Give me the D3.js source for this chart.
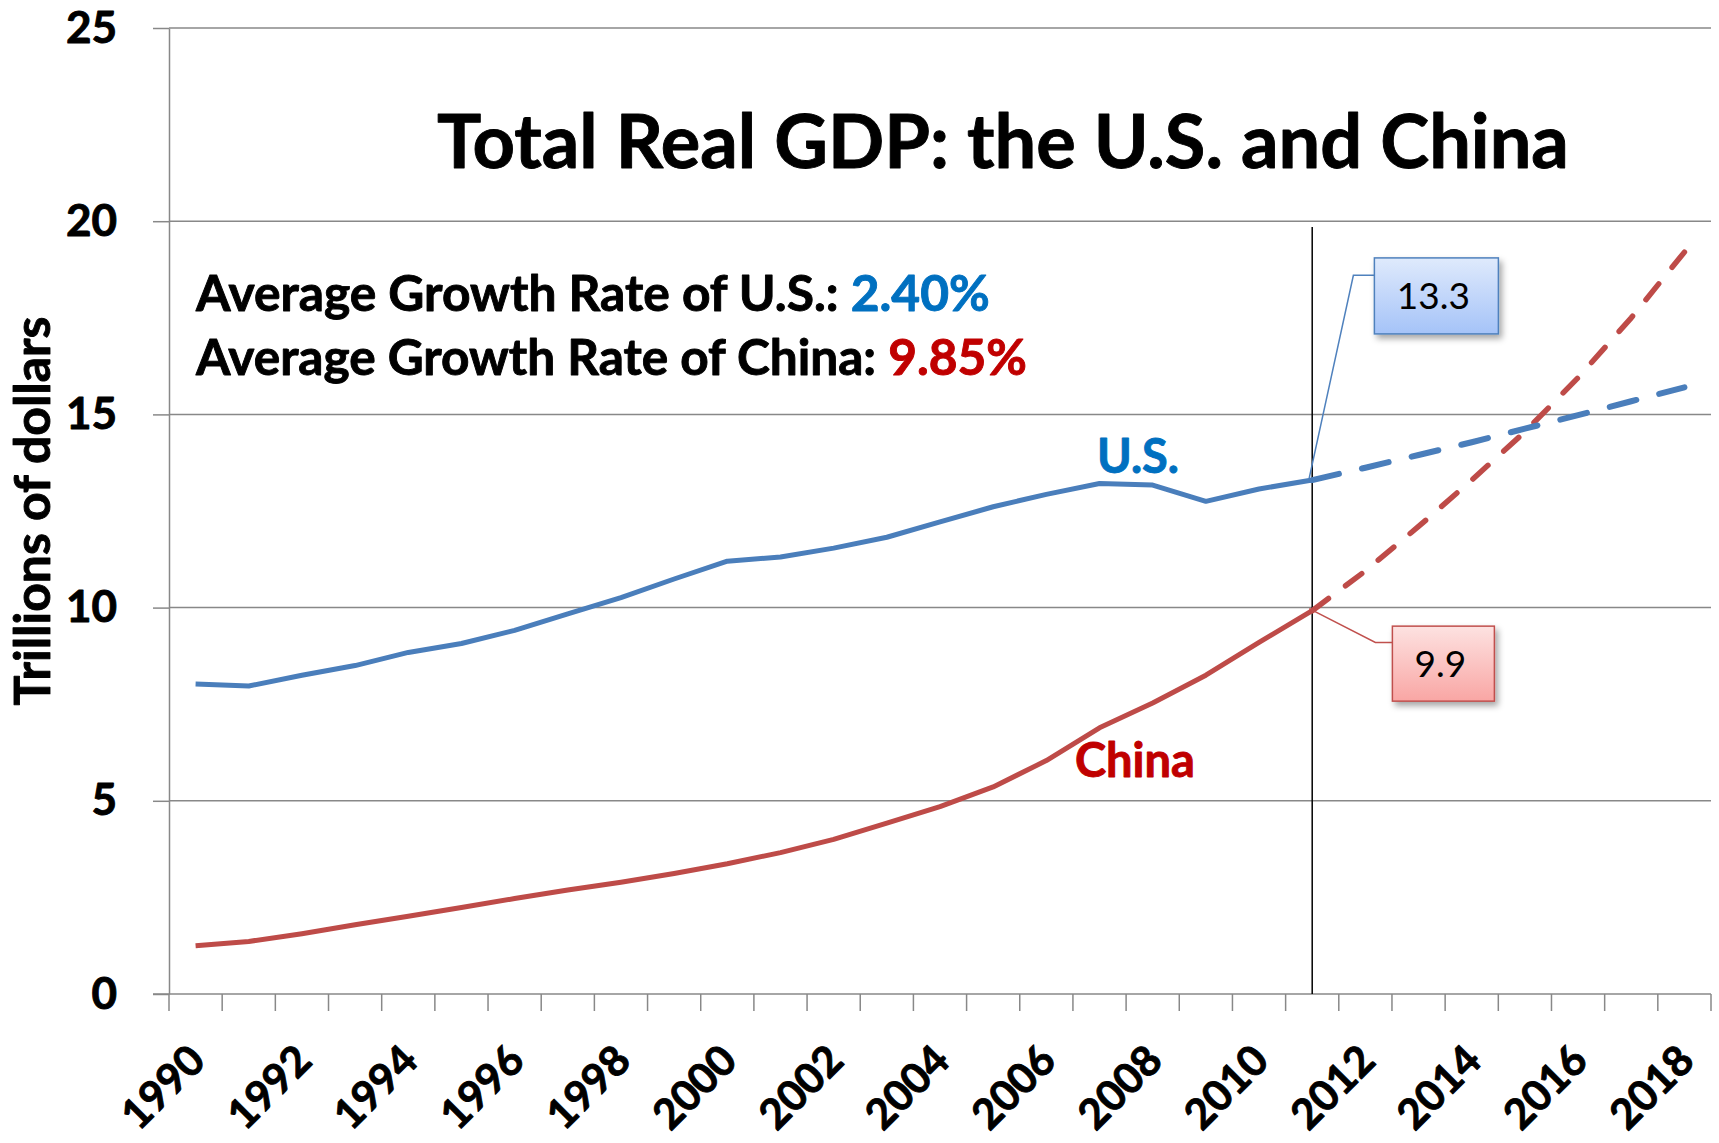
<!DOCTYPE html>
<html>
<head>
<meta charset="utf-8">
<script src="https://cdn.jsdelivr.net/npm/d3@7"></script>
<style>
  body { margin: 0; background: #fff }
  svg { display: block }
  text { font-family: Lato, 'Open Sans', sans-serif }
  text.heavy { stroke-width: 0.9px; stroke-linejoin: round }
</style>
</head>
<body>
<svg></svg>
<script>
// categories and values (trillions of dollars)
var years = [1990, 1991, 1992, 1993, 1994, 1995, 1996, 1997, 1998, 1999,
             2000, 2001, 2002, 2003, 2004, 2005, 2006, 2007, 2008, 2009,
             2010, 2011, 2012, 2013, 2014, 2015, 2016, 2017, 2018]
var actualYears = years.slice(0, 22)      // 1990 - 2011
var projYears = years.slice(21)           // 2011 - 2018
var labelYears = years.filter(function (d) { return d % 2 === 0 })

var usActual = [8.02, 7.97, 8.25, 8.50, 8.84, 9.07, 9.41, 9.84, 10.26, 10.74,
                11.20, 11.31, 11.54, 11.82, 12.22, 12.61, 12.93, 13.21, 13.17, 12.75,
                13.07, 13.30]
var usProjected = [13.30, 13.62, 13.95, 14.28, 14.63, 14.98, 15.34, 15.70]
var chinaActual = [1.25, 1.36, 1.56, 1.79, 2.01, 2.24, 2.47, 2.69, 2.89, 3.12,
                   3.37, 3.66, 4.00, 4.42, 4.85, 5.36, 6.04, 6.89, 7.53, 8.25,
                   9.10, 9.92]
var chinaProjected = [9.92, 10.95, 12.10, 13.30, 14.55, 15.95, 17.50, 19.20]
var yTicks = [0, 5, 10, 15, 20, 25]

var blue = '#4a7ebb', red = '#be4b48'
var width = 1719, height = 1143

var svg = d3.select('svg').attr('width', width).attr('height', height)

var defs = svg.append('defs')
defs.append('filter').attr('id', 'shadow')
    .attr('x', '-20%').attr('y', '-20%').attr('width', '150%').attr('height', '170%')
  .append('feDropShadow')
    .attr('dx', 3).attr('dy', 4).attr('stdDeviation', 3)
    .attr('flood-color', '#000').attr('flood-opacity', 0.35)

function gradient(id, top, bottom) {
  var g = defs.append('linearGradient').attr('id', id)
              .attr('x1', 0).attr('y1', 0).attr('x2', 0).attr('y2', 1)
  g.append('stop').attr('offset', '0%').attr('stop-color', top)
  g.append('stop').attr('offset', '100%').attr('stop-color', bottom)
}
gradient('gBlue', '#dfeafc', '#a5c3f8')
gradient('gRed', '#fde2e1', '#f9a6a4')

var x = d3.scaleBand().domain(years).range([169, 1711])
var y = d3.scaleLinear().domain([0, 25]).range([994, 28])
var cx = function (d) { return x(d) + x.bandwidth() / 2 }

// shrink / grow a text so it spans a given width
function fit(sel, w) {
  var size = +sel.attr('font-size')
  var len = sel.node().getComputedTextLength()
  sel.attr('font-size', size * w / len)
  return sel
}

// horizontal gridlines
svg.append('g').selectAll('line').data(yTicks.slice(1))
  .enter().append('line')
    .attr('x1', 169).attr('x2', 1711)
    .attr('y1', y).attr('y2', y)
    .attr('stroke', '#888').attr('stroke-width', 1.5)

// y axis
var yAxis = svg.append('g').attr('transform', 'translate(169,0)')
  .call(d3.axisLeft(y).tickValues(yTicks).tickSize(16).tickSizeOuter(0).tickPadding(36))
yAxis.select('.domain').attr('stroke', '#888').attr('stroke-width', 1.5)
yAxis.selectAll('.tick line').attr('stroke', '#888').attr('stroke-width', 1.5)
yAxis.selectAll('.tick text')
  .attr('class', 'heavy').attr('stroke', '#000')
  .attr('font-family', 'Lato').attr('font-weight', 700).attr('font-size', 44)
  .attr('fill', '#000')

// x axis: ticks between categories, labels every other year
var xg = svg.append('g')
xg.append('line').attr('x1', 153).attr('x2', 1711).attr('y1', y(0)).attr('y2', y(0))
  .attr('stroke', '#888').attr('stroke-width', 1.5)
xg.selectAll('line.tick').data(years.map(x).concat([x.range()[1]]))
  .enter().append('line').attr('class', 'tick')
    .attr('x1', function (d) { return d }).attr('x2', function (d) { return d })
    .attr('y1', y(0)).attr('y2', y(0) + 17)
    .attr('stroke', '#888').attr('stroke-width', 1.5)
xg.selectAll('text').data(labelYears)
  .enter().append('text')
    .attr('class', 'heavy').attr('stroke', '#000')
    .attr('transform', function (d) { return 'translate(' + (cx(d) + 12) + ',1063) rotate(-45)' })
    .attr('text-anchor', 'end')
    .attr('font-weight', 700).attr('font-size', 42)
    .text(function (d) { return d })

// axis title
fit(svg.append('text')
  .attr('class', 'heavy').attr('stroke', '#000')
  .attr('transform', 'translate(50,' + y(12.5) + ') rotate(-90)')
  .attr('text-anchor', 'middle')
  .attr('font-weight', 700).attr('font-size', 40)
  .text('Trillions of dollars'), 389)

// 2011 marker
svg.append('line')
  .attr('x1', cx(2011)).attr('x2', cx(2011))
  .attr('y1', y(19.85)).attr('y2', y(0))
  .attr('stroke', '#000').attr('stroke-width', 1.5)

// series
var line = d3.line().x(function (d) { return cx(d[0]) }).y(function (d) { return y(d[1]) })
var series = [
  { color: red, data: d3.zip(actualYears, chinaActual), dash: null, w: 5 },
  { color: blue, data: d3.zip(actualYears, usActual), dash: null, w: 5 },
  { color: red, data: d3.zip(projYears, chinaProjected), dash: [21, 22], w: 5.5 },
  { color: blue, data: d3.zip(projYears, usProjected), dash: [29, 25], w: 6 }
]
svg.append('g').selectAll('path').data(series)
  .enter().append('path')
    .attr('d', function (d) { return line(d.data) })
    .attr('fill', 'none')
    .attr('stroke', function (d) { return d.color })
    .attr('stroke-width', function (d) { return d.w })
    .attr('stroke-linejoin', 'round')
    .attr('stroke-linecap', function (d) { return d.dash ? 'round' : 'butt' })
    .attr('stroke-dasharray', function (d) {
      if (!d.dash) return null
      // stretch the pattern a little so the line ends on a dash
      var L = this.getTotalLength(), p = d.dash[0] + d.dash[1]
      var n = Math.round((L + d.dash[1]) / p), k = (L + d.dash[1]) / (n * p)
      return (d.dash[0] * k) + ',' + (d.dash[1] * k)
    })

// callouts for the 2011 values
var callouts = [
  { value: 13.3, color: '#4f81bd', fill: 'url(#gBlue)',
    bx: cx(2012) + 9, by: y(19.05), bw: 124, bh: 76, bend: [cx(2012) - 12, y(18.6)] },
  { value: 9.9, color: '#c0504d', fill: 'url(#gRed)',
    bx: cx(2012) + 27, by: y(9.52), bw: 102, bh: 75, bend: [cx(2012) + 10, y(9.1)] }
]
var last = { 13.3: usProjected[0], 9.9: chinaProjected[0] }
var co = svg.append('g').selectAll('g').data(callouts).enter().append('g')
co.append('polyline')
  .attr('points', function (d) {
    return [[cx(2011) - 3, y(last[d.value]) - 2], d.bend, [d.bx, d.bend[1]]].join(' ')
  })
  .attr('fill', 'none').attr('stroke', function (d) { return d.color }).attr('stroke-width', 1.5)
co.append('rect')
  .attr('x', function (d) { return d.bx }).attr('y', function (d) { return d.by })
  .attr('width', function (d) { return d.bw }).attr('height', function (d) { return d.bh })
  .attr('fill', function (d) { return d.fill })
  .attr('stroke', function (d) { return d.color }).attr('stroke-width', 1.5)
  .attr('filter', 'url(#shadow)')
co.append('text')
  .attr('x', function (d) { return d.bx + d.bw / 2 - 3 })
  .attr('y', function (d) { return d.by + d.bh / 2 + 13 })
  .attr('text-anchor', 'middle')
  .attr('font-size', 37)
  .text(function (d) { return d.value })

// series labels
fit(svg.append('text').attr('x', 1097).attr('y', 473)
  .attr('class', 'heavy').attr('stroke', '#0070c0')
  .attr('font-weight', 700).attr('font-size', 46).attr('fill', '#0070c0')
  .text('U.S.'), 82)
fit(svg.append('text').attr('x', 1075).attr('y', 777)
  .attr('class', 'heavy').attr('stroke', '#c00000')
  .attr('font-weight', 700).attr('font-size', 46).attr('fill', '#c00000')
  .text('China'), 120)

// title
fit(svg.append('text').attr('x', 1003).attr('y', 168)
  .attr('class', 'heavy').attr('stroke', '#000')
  .attr('text-anchor', 'middle')
  .attr('font-weight', 700).attr('font-size', 70)
  .text('Total Real GDP: the U.S. and China'), 1132)

// growth rates
var rates = [
  ['Average Growth Rate of U.S.: ', '2.40%', '#0070c0', 311, 794],
  ['Average Growth Rate of China: ', '9.85%', '#c00000', 375, 831]
]
rates.forEach(function (r) {
  var t = svg.append('text').attr('x', 196).attr('y', r[3])
    .attr('class', 'heavy')
    .attr('font-weight', 700).attr('font-size', 44)
  t.append('tspan').attr('fill', '#000').attr('stroke', '#000').text(r[0])
  t.append('tspan').attr('fill', r[2]).attr('stroke', r[2]).text(r[1])
  fit(t, r[4])
})
</script>
</body>
</html>
